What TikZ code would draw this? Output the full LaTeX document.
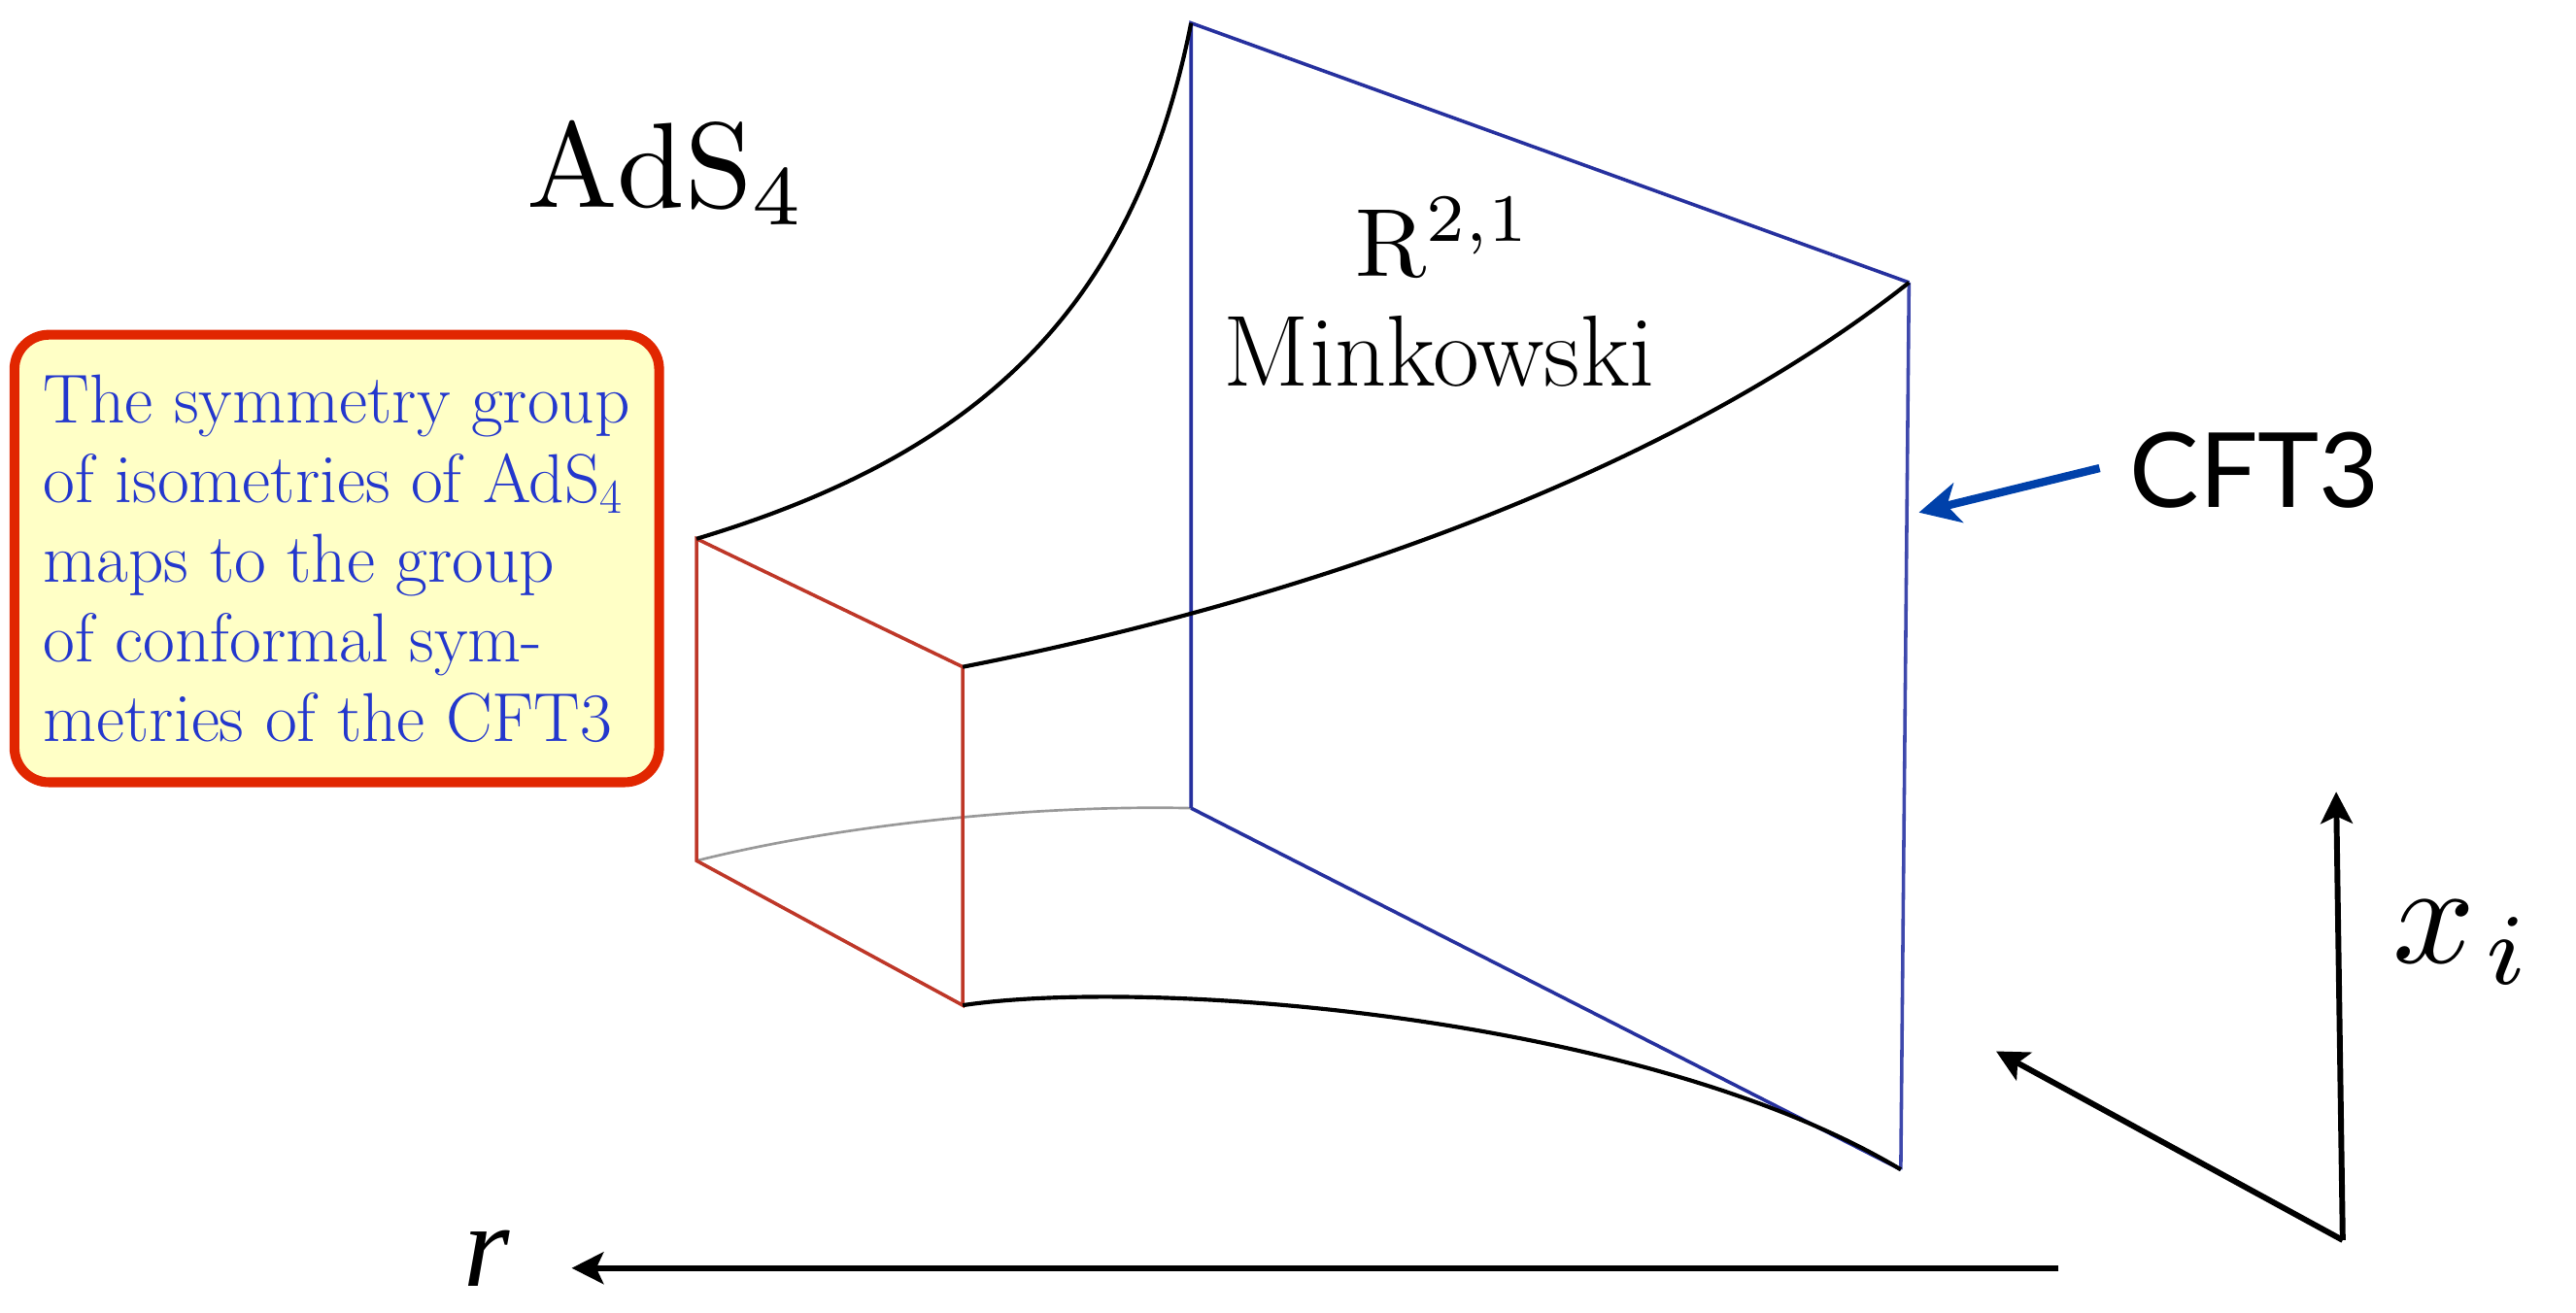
\documentclass[tikz,border=0pt]{standalone}
\usepackage{fontspec}
\newfontfamily\labelsans{Lato}
\newfontfamily\axisserif{Liberation Serif}
\usetikzlibrary{arrows.meta}
\definecolor{frameblue}{RGB}{38,48,158}
\definecolor{farblue}{RGB}{62,72,172}
\definecolor{capred}{RGB}{190,55,40}
\definecolor{notered}{RGB}{225,38,0}
\definecolor{notefill}{RGB}{255,255,198}
\definecolor{notetext}{RGB}{35,55,205}
\definecolor{pointblue}{RGB}{0,65,170}
\tikzset{
  bulk/.style={line width=1.4pt, black},
  hidden/.style={line width=0.9pt, black!40},
  bdry/.style={line width=1.2pt, frameblue},
  bdryfar/.style={line width=1.2pt, farblue},
  cutoff/.style={line width=1.2pt, capred},
  axis/.style={line width=2pt, black, -{Stealth[length=11pt,width=11pt,inset=2.5pt]}},
  pointer/.style={line width=2.8pt, pointblue, -{Stealth[length=14pt,width=14pt,inset=4pt]}},
  note/.style={draw=notered, line width=3.4pt, fill=notefill, rounded corners=0.42cm,
    minimum width=7.85cm, minimum height=5.45cm, text=notetext, align=left,
    font=\fontsize{24}{27.6}\selectfont},
  mathlabel/.style={inner sep=0pt, font=\fontsize{10}{12}\selectfont},
}
\begin{document}
\begin{tikzpicture}[x=0.02cm,y=-0.02cm]
\useasboundingbox (0,0) rectangle (1568,799);

% boundary plane (blue) corners
\coordinate (bTL) at (725,14);
\coordinate (bTR) at (1162,172);
\coordinate (bBR) at (1157,712);
\coordinate (bBL) at (725,492);
% cut-off surface (red) corners
\coordinate (rTL) at (424,328);
\coordinate (rTR) at (586,406);
\coordinate (rBR) at (586,612);
\coordinate (rBL) at (424,524);

% hidden edge at the back
\draw[hidden] (rBL) .. controls (520,500) and (640,490) .. (bBL);

% blue boundary square
\draw[bdry] (bBL) -- (bTL) -- (bTR);
\draw[bdryfar] (bTR) -- (bBR);
\draw[bdry] (bBR) -- (bBL);

% red cut-off square
\draw[cutoff] (rTL) -- (rTR) -- (rBR) -- (rBL) -- cycle;

% bulk edges of the horn
\draw[bulk] (rTL) .. controls (594,277) and (690,190) .. (bTL);
\draw[bulk] (rTR) .. controls (760,372) and (1000,300) .. (bTR);
\draw[bulk] (rBR) .. controls (700,595) and (1000,618) .. (bBR);

% labels
\node[mathlabel, scale=4.2, anchor=base west] (ads) at (319,126) {$\mathrm{AdS}_4$};
\node[mathlabel, scale=3.35, anchor=base west] (rmink) at (824,168) {$\mathrm{R}^{2,1}$};
\node[anchor=base] (mink) at (876,235) {\fontsize{35}{35}\selectfont Minkowski};

% note box
\node[note] (iso) at (205,340) {The symmetry group\\of isometries of AdS\textsubscript{4}\\maps to the group\\of conformal sym-\\metries of the CFT3};

% CFT3 pointer
\node[anchor=west, inner sep=0pt] (cft) at (1296,286) {\labelsans\fontsize{36}{36}\selectfont CFT3};
\coordinate (ptail) at (1278,285);
\coordinate (phead) at (1168,312);
\draw[pointer] (ptail) -- (phead);

% axes
\coordinate (origin) at (1426,755);
\coordinate (xtip) at (1422,482);
\coordinate (dtip) at (1215,640);
\coordinate (rstart) at (1253,772);
\coordinate (rend) at (348,772);
\draw[axis] (origin) -- (xtip);
\draw[axis] (origin) -- (dtip);
\draw[axis] (rstart) -- (rend);
\node[mathlabel, scale=5.0, anchor=base west] (xi) at (1455,586) {$x_{\mkern1.5mu i}$};
\node[inner sep=0pt, anchor=base west] (rr) at (282,783) {\axisserif\itshape\fontsize{41}{41}\selectfont r};
\end{tikzpicture}
\end{document}
